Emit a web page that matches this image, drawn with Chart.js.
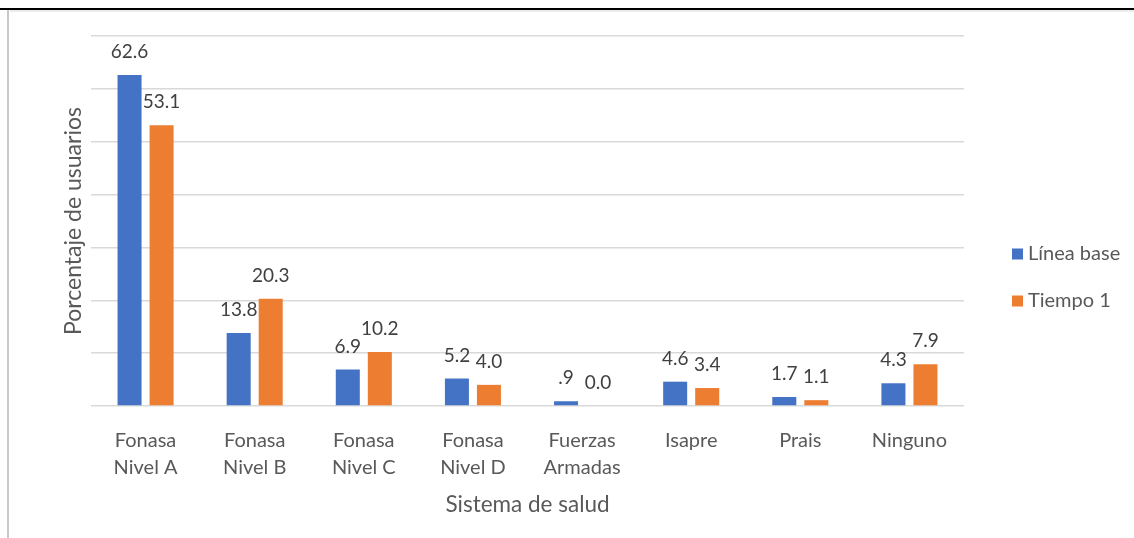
<!DOCTYPE html>
<html>
<head>
<meta charset="utf-8">
<script src="https://cdn.jsdelivr.net/npm/chart.js@4"></script>
<style>
    body { margin: 0; background: #fff; }
    #wrap { position: relative; width: 1134px; height: 538px; }
    #topline { position: absolute; left: 0; top: 8px; width: 1134px; height: 2px; background: #000; }
    #shade { position: absolute; left: 10px; top: 10px; width: 1124px; height: 2px; background: #ececec; }
    #leftline { position: absolute; left: 7px; top: 10px; width: 2px; height: 528px; background: #c8c8c8; }
    canvas { position: absolute; left: 0; top: 0; }
</style>
</head>
<body>
<div id="wrap">
    <canvas id="chart" width="1134" height="538"></canvas>
    <div id="topline"></div>
    <div id="shade"></div>
    <div id="leftline"></div>
</div>
<script>
const categories = [
    ["Fonasa", "Nivel A"],
    ["Fonasa", "Nivel B"],
    ["Fonasa", "Nivel C"],
    ["Fonasa", "Nivel D"],
    ["Fuerzas", "Armadas"],
    ["Isapre"],
    ["Prais"],
    ["Ninguno"],
];
const lineaBase = [62.6, 13.8, 6.9, 5.2, 0.9, 4.6, 1.7, 4.3];
const tiempo1 = [53.1, 20.3, 10.2, 4.0, 0.0, 3.4, 1.1, 7.9];
const lineaBaseLabels = ["62.6", "13.8", "6.9", "5.2", ".9", "4.6", "1.7", "4.3"];
const tiempo1Labels = ["53.1", "20.3", "10.2", "4.0", "0.0", "3.4", "1.1", "7.9"];
const seriesNames = ["Línea base", "Tiempo 1"];

const FONT = "Lato, 'Open Sans', sans-serif";
const BLUE = "#4472c4";
const ORANGE = "#ed7d31";

// value labels above each bar
const valueLabels = {
    id: "valueLabels",
    afterDatasetsDraw(chart) {
        const ctx = chart.ctx;
        const texts = [lineaBaseLabels, tiempo1Labels];
        ctx.save();
        ctx.font = "19px " + FONT;
        ctx.fillStyle = "#404040";
        ctx.textAlign = "center";
        ctx.textBaseline = "middle";
        chart.data.datasets.forEach((ds, i) => {
            chart.getDatasetMeta(i).data.forEach((bar, j) => {
                ctx.fillText(texts[i][j], bar.x, bar.y - 23);
            });
        });
        ctx.restore();
    },
};

// legend drawn on the right, like the original
const sideLegend = {
    id: "sideLegend",
    afterDraw(chart) {
        const ctx = chart.ctx;
        const rows = [254, 301];
        ctx.save();
        ctx.font = "20px " + FONT;
        ctx.textBaseline = "middle";
        chart.data.datasets.forEach((ds, i) => {
            ctx.fillStyle = ds.backgroundColor;
            ctx.fillRect(1012, rows[i] - 5.5, 11, 11);
            ctx.fillStyle = "#595959";
            ctx.fillText(ds.label, 1028, rows[i]);
        });
        ctx.restore();
    },
};

new Chart(document.getElementById("chart"), {
    type: "bar",
    data: {
        labels: categories,
        datasets: [
            {
                label: seriesNames[0],
                data: lineaBase,
                backgroundColor: BLUE,
            },
            {
                label: seriesNames[1],
                data: tiempo1,
                backgroundColor: ORANGE,
            },
        ],
    },
    options: {
        responsive: false,
        animation: false,
        devicePixelRatio: 1,
        layout: {
            padding: { top: 36, right: 170, bottom: 16, left: 56 },
        },
        datasets: {
            bar: {
                categoryPercentage: 0.587,
                barPercentage: 0.75,
            },
        },
        plugins: {
            legend: { display: false },
            tooltip: { enabled: false },
        },
        scales: {
            x: {
                grid: { display: false },
                border: { display: false },
                ticks: {
                    color: "#595959",
                    font: { family: FONT, size: 20, lineHeight: 1.35 },
                    padding: 13,
                    maxRotation: 0,
                    autoSkip: false,
                },
                title: {
                    display: true,
                    text: "Sistema de salud",
                    color: "#595959",
                    font: { family: FONT, size: 22.5, lineHeight: 1.2 },
                    padding: { top: 4, bottom: 4 },
                },
                afterFit(scale) {
                    scale.height = 116;
                },
            },
            y: {
                min: 0,
                max: 70,
                ticks: { display: false, stepSize: 10 },
                grid: { color: "#d9d9d9", lineWidth: 1.5, drawTicks: false },
                border: { display: false },
                title: {
                    display: true,
                    text: "Porcentaje de usuarios",
                    color: "#595959",
                    font: { family: FONT, size: 23, lineHeight: 1.2 },
                    padding: { top: 4, bottom: 4 },
                },
                afterFit(scale) {
                    scale.width = 35;
                },
            },
        },
    },
    plugins: [valueLabels, sideLegend],
});
</script>
</body>
</html>
